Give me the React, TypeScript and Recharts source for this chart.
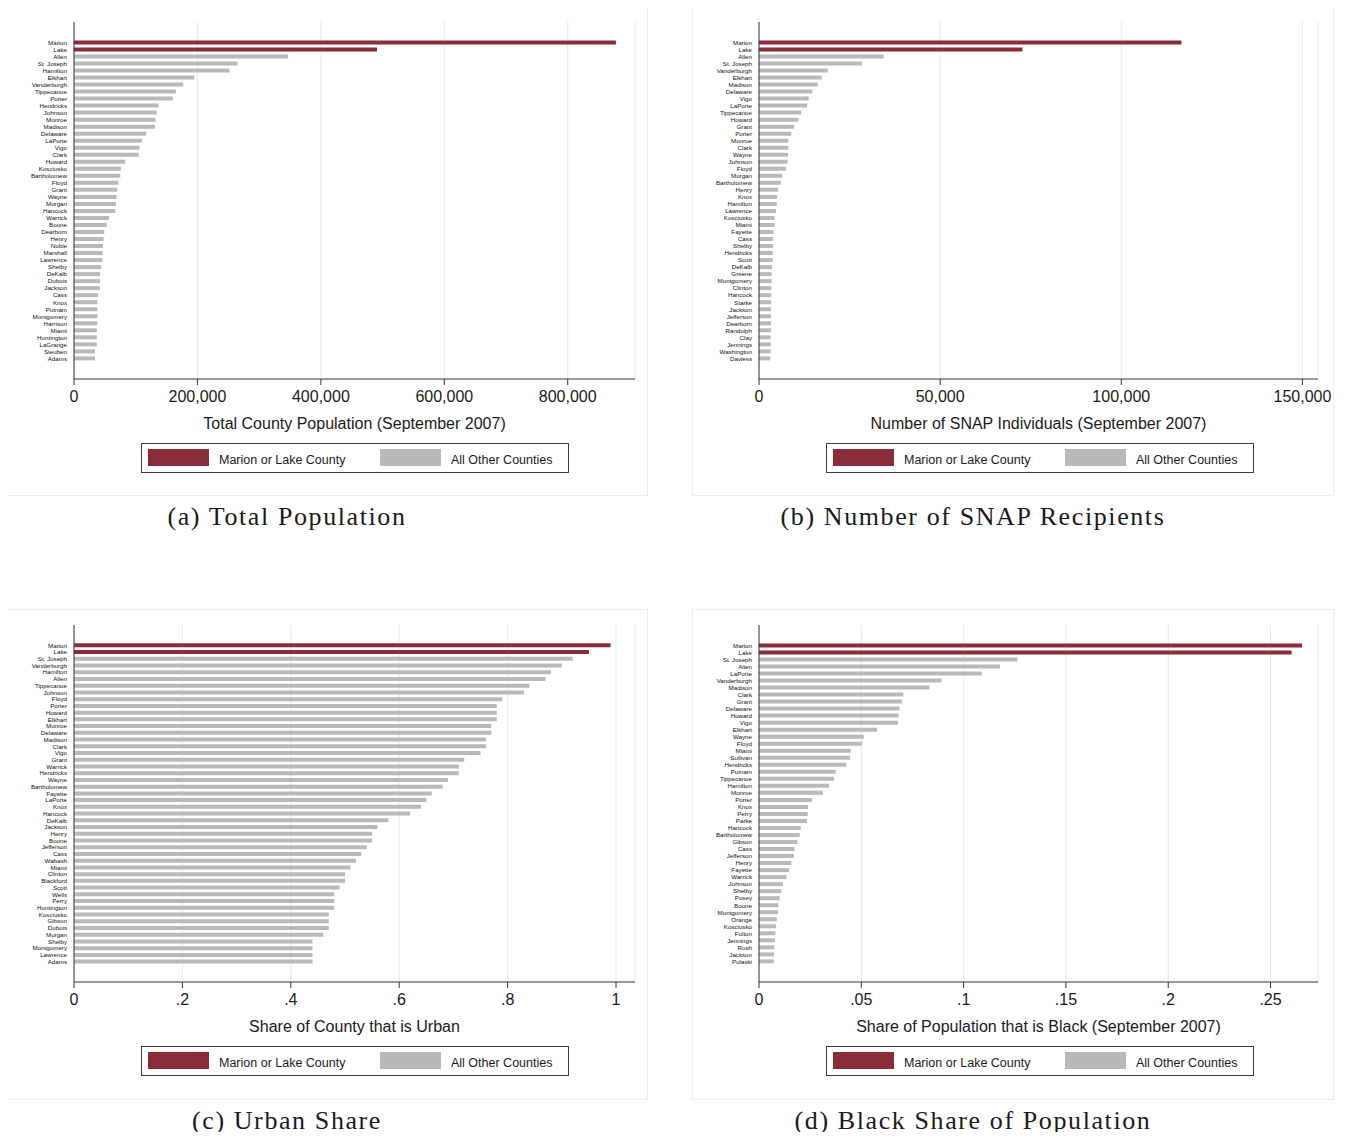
import React from "react";
import { Bar, BarChart, CartesianGrid, Cell, XAxis, YAxis } from "recharts";

const MAROON = "#8A2D38";
const GRAY = "#B9B9B9";
const AXIS = "#333333";
const GRID = "#E2EAEE";
const FRAME = "#E9EEF1";
const SANS = "'Liberation Sans', Arial, Helvetica, sans-serif";
const SERIF = "'Liberation Serif', 'Times New Roman', serif";

// (a) total population, September 2007
const popCounties = [
  "Marion", "Lake", "Allen", "St. Joseph", "Hamilton", "Elkhart", "Vanderburgh", "Tippecanoe",
  "Porter", "Hendricks", "Johnson", "Monroe", "Madison", "Delaware", "LaPorte", "Vigo", "Clark",
  "Howard", "Kosciusko", "Bartholomew", "Floyd", "Grant", "Wayne", "Morgan", "Hancock", "Warrick",
  "Boone", "Dearborn", "Henry", "Noble", "Marshall", "Lawrence", "Shelby", "DeKalb", "Dubois",
  "Jackson", "Cass", "Knox", "Putnam", "Montgomery", "Harrison", "Miami", "Huntington", "LaGrange",
  "Steuben", "Adams",
];
const popValues = [
  878000, 491000, 347000, 265000, 252000, 195000, 177000, 165000,
  160000, 137000, 134000, 132000, 131000, 117000, 110000, 106000, 105000,
  83000, 76000, 75000, 72000, 70000, 69000, 68000, 67000, 57000,
  53000, 49000, 48000, 47000, 46500, 46000, 44000, 42000, 42000,
  42000, 39000, 38000, 38000, 38000, 38000, 37000, 37000, 37000,
  34000, 34000,
];
const popTicks = [0, 200000, 400000, 600000, 800000];

// (b) SNAP individuals, September 2007
const snapCounties = [
  "Marion", "Lake", "Allen", "St. Joseph", "Vanderburgh", "Elkhart", "Madison", "Delaware", "Vigo",
  "LaPorte", "Tippecanoe", "Howard", "Grant", "Porter", "Monroe", "Clark", "Wayne", "Johnson",
  "Floyd", "Morgan", "Bartholomew", "Henry", "Knox", "Hamilton", "Lawrence", "Kosciusko", "Miami",
  "Fayette", "Cass", "Shelby", "Hendricks", "Scott", "DeKalb", "Greene", "Montgomery", "Clinton",
  "Hancock", "Starke", "Jackson", "Jefferson", "Dearborn", "Randolph", "Clay", "Jennings",
  "Washington", "Daviess",
];
const snapValues = [
  116600, 72700, 34400, 28400, 19000, 17300, 16200, 14700, 13700,
  13300, 11700, 10900, 9700, 8900, 8100, 8100, 8000, 7900,
  7500, 6400, 6000, 5300, 5000, 4900, 4700, 4300, 4300,
  4000, 3900, 3900, 3800, 3800, 3600, 3500, 3500, 3400,
  3400, 3400, 3300, 3300, 3300, 3300, 3200, 3200,
  3200, 3100,
];
const snapTicks = [0, 50000, 100000, 150000];

// (c) urban share
const urbanCounties = [
  "Marion", "Lake", "St. Joseph", "Vanderburgh", "Hamilton", "Allen", "Tippecanoe", "Johnson",
  "Floyd", "Porter", "Howard", "Elkhart", "Monroe", "Delaware", "Madison", "Clark", "Vigo", "Grant",
  "Warrick", "Hendricks", "Wayne", "Bartholomew", "Fayette", "LaPorte", "Knox", "Hancock", "DeKalb",
  "Jackson", "Henry", "Boone", "Jefferson", "Cass", "Wabash", "Miami", "Clinton", "Blackford",
  "Scott", "Wells", "Perry", "Huntington", "Kosciusko", "Gibson", "Dubois", "Morgan", "Shelby",
  "Montgomery", "Lawrence", "Adams",
];
const urbanValues = [
  0.99, 0.95, 0.92, 0.9, 0.88, 0.87, 0.84, 0.83,
  0.79, 0.78, 0.78, 0.78, 0.77, 0.77, 0.76, 0.76, 0.75, 0.72,
  0.71, 0.71, 0.69, 0.68, 0.66, 0.65, 0.64, 0.62, 0.58,
  0.56, 0.55, 0.55, 0.54, 0.53, 0.52, 0.51, 0.5, 0.5,
  0.49, 0.48, 0.48, 0.48, 0.47, 0.47, 0.47, 0.46, 0.44,
  0.44, 0.44, 0.44,
];
const urbanTicks = [0, 0.2, 0.4, 0.6, 0.8, 1];

// (d) black share of population, September 2007
const blackCounties = [
  "Marion", "Lake", "St. Joseph", "Allen", "LaPorte", "Vanderburgh", "Madison", "Clark", "Grant",
  "Delaware", "Howard", "Vigo", "Elkhart", "Wayne", "Floyd", "Miami", "Sullivan", "Hendricks",
  "Putnam", "Tippecanoe", "Hamilton", "Monroe", "Porter", "Knox", "Perry", "Parke", "Hancock",
  "Bartholomew", "Gibson", "Cass", "Jefferson", "Henry", "Fayette", "Warrick", "Johnson", "Shelby",
  "Posey", "Boone", "Montgomery", "Orange", "Kosciusko", "Fulton", "Jennings", "Rush", "Jackson",
  "Pulaski",
];
const blackValues = [
  0.2654, 0.2603, 0.1263, 0.1178, 0.1088, 0.0892, 0.0833, 0.0705, 0.0698,
  0.0687, 0.0682, 0.0679, 0.0577, 0.0512, 0.0504, 0.0449, 0.0445, 0.0426,
  0.0375, 0.0367, 0.0342, 0.0312, 0.0259, 0.024, 0.0238, 0.0235, 0.0204,
  0.0199, 0.0188, 0.0173, 0.017, 0.0158, 0.0147, 0.0134, 0.0117, 0.0109,
  0.0101, 0.0095, 0.0093, 0.0087, 0.0083, 0.008, 0.0078, 0.0075, 0.0073,
  0.0072,
];
const blackTicks = [0, 0.05, 0.1, 0.15, 0.2, 0.25];

const highlighted = ["Marion", "Lake"];

const commaFormat = (v: number) => v.toLocaleString("en-US");
// stata style: ".2" instead of "0.2"
const shareFormat = (v: number) => (v === 0 ? "0" : String(v).replace(/^0\./, "."));

type PanelProps = {
  left: number;
  top: number;
  width: number;
  height: number;
  plotRight: number;
  names: string[];
  values: number[];
  max: number;
  ticks: number[];
  format: (v: number) => string;
  title: string;
};

function CountyPanel(props: PanelProps) {
  const { left, top, width, height, plotRight, names, values, max, ticks, format, title } = props;
  const data = names.map((name, i) => ({ name, value: values[i] }));

  return (
    <div style={{ position: "absolute", left, top, width, height, background: "#fff" }}>
      <div
        style={{
          position: "absolute",
          inset: 0,
          border: `1px solid ${FRAME}`,
          boxSizing: "border-box",
        }}
      />
      <div style={{ position: "absolute", left: 0, top: 0 }}>
        <BarChart
          width={width}
          height={440}
          layout="vertical"
          data={data}
          barCategoryGap="20%"
          margin={{ top: 16, right: width - plotRight, bottom: 0, left: 0 }}
        >
          <CartesianGrid horizontal={false} stroke={GRID} strokeWidth={1} />
          <XAxis
            type="number"
            domain={[0, max]}
            ticks={ticks}
            allowDataOverflow
            height={67}
            tickFormatter={format}
            tickSize={6}
            tickMargin={6}
            stroke={AXIS}
            tick={{ fontSize: 16, fill: "#1a1a1a", fontFamily: SANS }}
            label={{
              value: title,
              position: "insideBottom",
              offset: 17,
              fontSize: 16,
              fill: "#1a1a1a",
              fontFamily: SANS,
            }}
          />
          <YAxis
            type="category"
            dataKey="name"
            width={67}
            interval={0}
            tickLine={false}
            tickSize={5}
            tickMargin={2}
            stroke={AXIS}
            padding={{ top: 17, bottom: 17 }}
            tick={{ fontSize: 6.2, fill: "#111", fontFamily: SANS }}
          />
          <Bar dataKey="value" isAnimationActive={false}>
            {data.map((d) => (
              <Cell key={d.name} fill={highlighted.includes(d.name) ? MAROON : GRAY} />
            ))}
          </Bar>
        </BarChart>
      </div>
      <div
        style={{
          position: "absolute",
          left: 134,
          top: 437,
          width: 428,
          height: 30,
          border: "1px solid #3a3a3a",
          boxSizing: "border-box",
          fontFamily: SANS,
          fontSize: 12.5,
          color: "#1a1a1a",
        }}
      >
        <div style={{ position: "absolute", left: 6, top: 5, width: 61, height: 17, background: MAROON }} />
        <div style={{ position: "absolute", left: 77, top: 2, lineHeight: "28px" }}>Marion or Lake County</div>
        <div style={{ position: "absolute", left: 238, top: 5, width: 61, height: 17, background: GRAY }} />
        <div style={{ position: "absolute", left: 309, top: 2, lineHeight: "28px" }}>All Other Counties</div>
      </div>
    </div>
  );
}

function Caption({ x, y, text }: { x: number; y: number; text: string }) {
  return (
    <div
      style={{
        position: "absolute",
        left: x - 250,
        top: y - 15,
        width: 500,
        textAlign: "center",
        fontFamily: SERIF,
        fontSize: 26,
        lineHeight: "30px",
        letterSpacing: 1.6,
        color: "#1a1a1a",
      }}
    >
      {text}
    </div>
  );
}

export default function App() {
  return (
    <div style={{ position: "relative", width: 1345, height: 1140, margin: -8, background: "#fff" }}>
      <CountyPanel
        left={7}
        top={6}
        width={641}
        height={490}
        plotRight={628}
        names={popCounties}
        values={popValues}
        max={909000}
        ticks={popTicks}
        format={commaFormat}
        title="Total County Population (September 2007)"
      />
      <CountyPanel
        left={692}
        top={6}
        width={642}
        height={490}
        plotRight={626}
        names={snapCounties}
        values={snapValues}
        max={154300}
        ticks={snapTicks}
        format={commaFormat}
        title="Number of SNAP Individuals (September 2007)"
      />
      <CountyPanel
        left={7}
        top={609}
        width={641}
        height={491}
        plotRight={628}
        names={urbanCounties}
        values={urbanValues}
        max={1.035}
        ticks={urbanTicks}
        format={shareFormat}
        title="Share of County that is Urban"
      />
      <CountyPanel
        left={692}
        top={609}
        width={642}
        height={491}
        plotRight={626}
        names={blackCounties}
        values={blackValues}
        max={0.2732}
        ticks={blackTicks}
        format={shareFormat}
        title="Share of Population that is Black (September 2007)"
      />
      <Caption x={287} y={517} text="(a) Total Population" />
      <Caption x={973} y={517} text="(b) Number of SNAP Recipients" />
      <Caption x={287} y={1121} text="(c) Urban Share" />
      <Caption x={973} y={1121} text="(d) Black Share of Population" />
    </div>
  );
}
